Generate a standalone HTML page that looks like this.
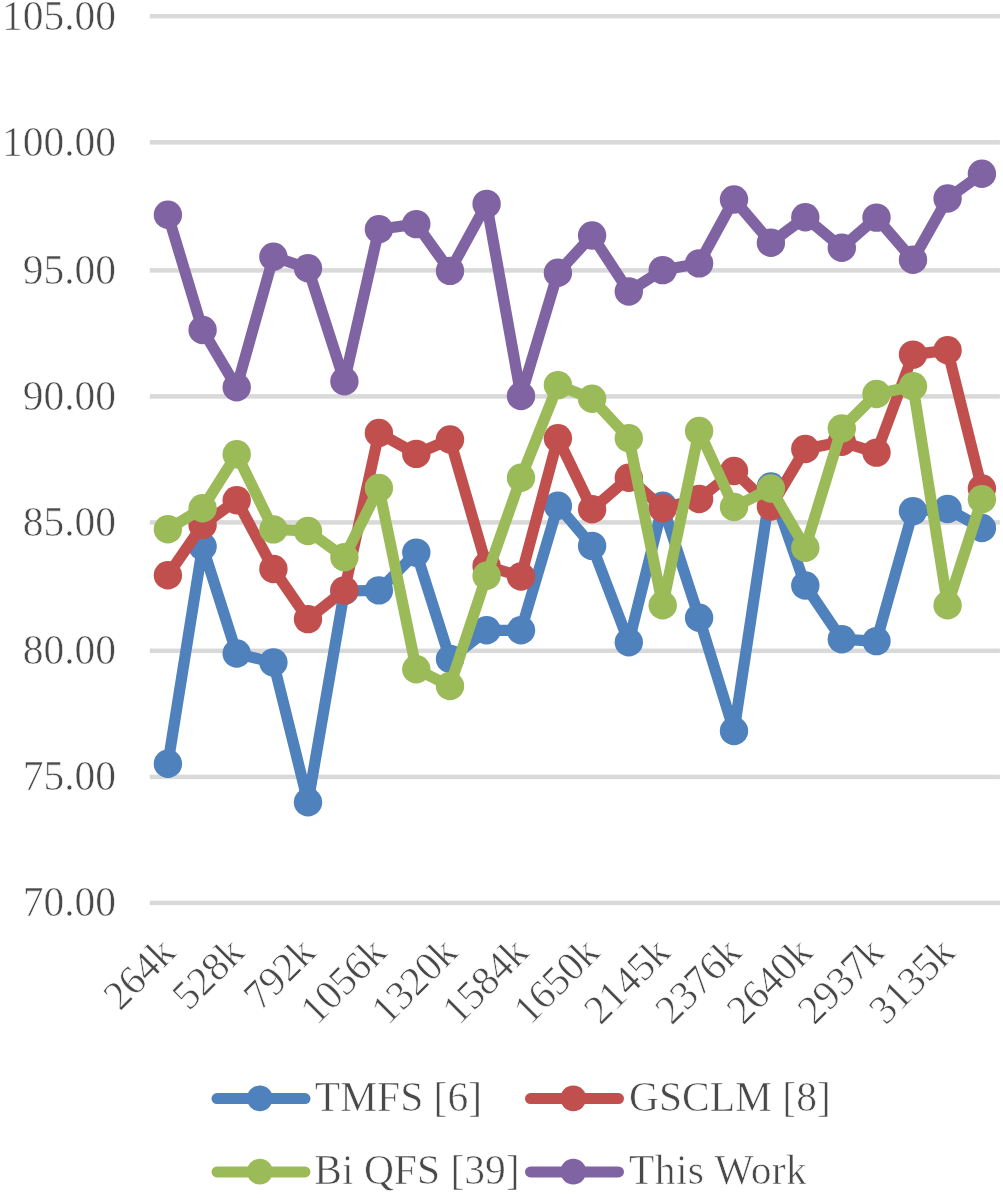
<!DOCTYPE html>
<html><head><meta charset="utf-8"><title>chart</title>
<style>
html,body{margin:0;padding:0;background:#fff;}
svg{display:block;}
text{font-family:"Liberation Serif",serif;fill:#484848;stroke:#fff;stroke-width:0.6px;paint-order:fill stroke;}
</style></head><body>
<svg width="1003" height="1198" viewBox="0 0 1003 1198">
<defs><filter id="b" x="-5%" y="-5%" width="110%" height="110%"><feGaussianBlur stdDeviation="0.6"/></filter><filter id="t" x="-5%" y="-5%" width="110%" height="110%"><feGaussianBlur stdDeviation="0.45"/></filter></defs>
<rect width="1003" height="1198" fill="#fff"/>
<rect x="149.8" y="13.95" width="850.1" height="4.5" fill="#D9D9D9"/>
<rect x="149.8" y="140.05" width="850.1" height="4.5" fill="#D9D9D9"/>
<rect x="149.8" y="268.15" width="850.1" height="4.5" fill="#D9D9D9"/>
<rect x="149.8" y="394.15" width="850.1" height="4.5" fill="#D9D9D9"/>
<rect x="149.8" y="520.15" width="850.1" height="4.5" fill="#D9D9D9"/>
<rect x="149.8" y="648.55" width="850.1" height="4.5" fill="#D9D9D9"/>
<rect x="149.8" y="774.65" width="850.1" height="4.5" fill="#D9D9D9"/>
<rect x="149.8" y="900.65" width="850.1" height="4.5" fill="#D9D9D9"/>
<g filter="url(#b)">
<polyline points="167.9,763.7 202.6,546.5 236.7,653.5 273.4,662.4 308.0,802.3 344.4,591.0 378.9,590.4 416.3,552.6 450.0,659.0 486.6,630.3 521.0,630.3 557.9,505.7 592.1,545.9 628.8,642.2 662.7,505.7 699.1,617.8 734.0,731.0 770.9,486.5 805.3,585.5 841.8,639.3 876.5,641.1 913.0,511.1 947.6,509.0 981.9,528.0" fill="none" stroke="#4F81BD" stroke-width="11.2" stroke-linejoin="round" stroke-linecap="round"/>
<circle cx="167.9" cy="763.7" r="14.2" fill="#4F81BD"/>
<circle cx="202.6" cy="546.5" r="14.2" fill="#4F81BD"/>
<circle cx="236.7" cy="653.5" r="14.2" fill="#4F81BD"/>
<circle cx="273.4" cy="662.4" r="14.2" fill="#4F81BD"/>
<circle cx="308.0" cy="802.3" r="14.2" fill="#4F81BD"/>
<circle cx="344.4" cy="591.0" r="14.2" fill="#4F81BD"/>
<circle cx="378.9" cy="590.4" r="14.2" fill="#4F81BD"/>
<circle cx="416.3" cy="552.6" r="14.2" fill="#4F81BD"/>
<circle cx="450.0" cy="659.0" r="14.2" fill="#4F81BD"/>
<circle cx="486.6" cy="630.3" r="14.2" fill="#4F81BD"/>
<circle cx="521.0" cy="630.3" r="14.2" fill="#4F81BD"/>
<circle cx="557.9" cy="505.7" r="14.2" fill="#4F81BD"/>
<circle cx="592.1" cy="545.9" r="14.2" fill="#4F81BD"/>
<circle cx="628.8" cy="642.2" r="14.2" fill="#4F81BD"/>
<circle cx="662.7" cy="505.7" r="14.2" fill="#4F81BD"/>
<circle cx="699.1" cy="617.8" r="14.2" fill="#4F81BD"/>
<circle cx="734.0" cy="731.0" r="14.2" fill="#4F81BD"/>
<circle cx="770.9" cy="486.5" r="14.2" fill="#4F81BD"/>
<circle cx="805.3" cy="585.5" r="14.2" fill="#4F81BD"/>
<circle cx="841.8" cy="639.3" r="14.2" fill="#4F81BD"/>
<circle cx="876.5" cy="641.1" r="14.2" fill="#4F81BD"/>
<circle cx="913.0" cy="511.1" r="14.2" fill="#4F81BD"/>
<circle cx="947.6" cy="509.0" r="14.2" fill="#4F81BD"/>
<circle cx="981.9" cy="528.0" r="14.2" fill="#4F81BD"/>
<polyline points="167.9,575.2 202.6,525.0 236.7,500.2 273.4,569.0 308.0,619.1 344.4,590.4 378.9,433.0 416.3,453.9 450.0,439.5 486.6,566.0 521.0,576.5 557.9,438.2 592.1,509.3 628.8,477.7 662.7,508.2 699.1,499.0 734.0,471.0 770.9,506.5 805.3,449.0 841.8,441.8 876.5,452.6 913.0,354.6 947.6,350.3 981.9,488.5" fill="none" stroke="#C0504D" stroke-width="11.2" stroke-linejoin="round" stroke-linecap="round"/>
<circle cx="167.9" cy="575.2" r="14.2" fill="#C0504D"/>
<circle cx="202.6" cy="525.0" r="14.2" fill="#C0504D"/>
<circle cx="236.7" cy="500.2" r="14.2" fill="#C0504D"/>
<circle cx="273.4" cy="569.0" r="14.2" fill="#C0504D"/>
<circle cx="308.0" cy="619.1" r="14.2" fill="#C0504D"/>
<circle cx="344.4" cy="590.4" r="14.2" fill="#C0504D"/>
<circle cx="378.9" cy="433.0" r="14.2" fill="#C0504D"/>
<circle cx="416.3" cy="453.9" r="14.2" fill="#C0504D"/>
<circle cx="450.0" cy="439.5" r="14.2" fill="#C0504D"/>
<circle cx="486.6" cy="566.0" r="14.2" fill="#C0504D"/>
<circle cx="521.0" cy="576.5" r="14.2" fill="#C0504D"/>
<circle cx="557.9" cy="438.2" r="14.2" fill="#C0504D"/>
<circle cx="592.1" cy="509.3" r="14.2" fill="#C0504D"/>
<circle cx="628.8" cy="477.7" r="14.2" fill="#C0504D"/>
<circle cx="662.7" cy="508.2" r="14.2" fill="#C0504D"/>
<circle cx="699.1" cy="499.0" r="14.2" fill="#C0504D"/>
<circle cx="734.0" cy="471.0" r="14.2" fill="#C0504D"/>
<circle cx="770.9" cy="506.5" r="14.2" fill="#C0504D"/>
<circle cx="805.3" cy="449.0" r="14.2" fill="#C0504D"/>
<circle cx="841.8" cy="441.8" r="14.2" fill="#C0504D"/>
<circle cx="876.5" cy="452.6" r="14.2" fill="#C0504D"/>
<circle cx="913.0" cy="354.6" r="14.2" fill="#C0504D"/>
<circle cx="947.6" cy="350.3" r="14.2" fill="#C0504D"/>
<circle cx="981.9" cy="488.5" r="14.2" fill="#C0504D"/>
<polyline points="167.9,529.2 202.6,508.2 236.7,454.2 273.4,529.4 308.0,531.0 344.4,557.3 378.9,488.0 416.3,669.3 450.0,686.0 486.6,575.7 521.0,477.7 557.9,385.1 592.1,398.7 628.8,438.2 662.7,605.2 699.1,431.0 734.0,507.0 770.9,488.5 805.3,547.8 841.8,428.5 876.5,394.0 913.0,386.2 947.6,605.2 981.9,499.3" fill="none" stroke="#9BBB59" stroke-width="11.2" stroke-linejoin="round" stroke-linecap="round"/>
<circle cx="167.9" cy="529.2" r="14.2" fill="#9BBB59"/>
<circle cx="202.6" cy="508.2" r="14.2" fill="#9BBB59"/>
<circle cx="236.7" cy="454.2" r="14.2" fill="#9BBB59"/>
<circle cx="273.4" cy="529.4" r="14.2" fill="#9BBB59"/>
<circle cx="308.0" cy="531.0" r="14.2" fill="#9BBB59"/>
<circle cx="344.4" cy="557.3" r="14.2" fill="#9BBB59"/>
<circle cx="378.9" cy="488.0" r="14.2" fill="#9BBB59"/>
<circle cx="416.3" cy="669.3" r="14.2" fill="#9BBB59"/>
<circle cx="450.0" cy="686.0" r="14.2" fill="#9BBB59"/>
<circle cx="486.6" cy="575.7" r="14.2" fill="#9BBB59"/>
<circle cx="521.0" cy="477.7" r="14.2" fill="#9BBB59"/>
<circle cx="557.9" cy="385.1" r="14.2" fill="#9BBB59"/>
<circle cx="592.1" cy="398.7" r="14.2" fill="#9BBB59"/>
<circle cx="628.8" cy="438.2" r="14.2" fill="#9BBB59"/>
<circle cx="662.7" cy="605.2" r="14.2" fill="#9BBB59"/>
<circle cx="699.1" cy="431.0" r="14.2" fill="#9BBB59"/>
<circle cx="734.0" cy="507.0" r="14.2" fill="#9BBB59"/>
<circle cx="770.9" cy="488.5" r="14.2" fill="#9BBB59"/>
<circle cx="805.3" cy="547.8" r="14.2" fill="#9BBB59"/>
<circle cx="841.8" cy="428.5" r="14.2" fill="#9BBB59"/>
<circle cx="876.5" cy="394.0" r="14.2" fill="#9BBB59"/>
<circle cx="913.0" cy="386.2" r="14.2" fill="#9BBB59"/>
<circle cx="947.6" cy="605.2" r="14.2" fill="#9BBB59"/>
<circle cx="981.9" cy="499.3" r="14.2" fill="#9BBB59"/>
<polyline points="167.9,214.8 202.6,330.0 236.7,387.3 273.4,256.7 308.0,268.2 344.4,381.3 378.9,229.3 416.3,224.1 450.0,270.9 486.6,203.9 521.0,396.0 557.9,272.7 592.1,235.5 628.8,291.5 662.7,270.1 699.1,263.4 734.0,199.5 770.9,242.7 805.3,217.3 841.8,247.8 876.5,217.6 913.0,259.8 947.6,198.5 981.9,173.8" fill="none" stroke="#8064A2" stroke-width="11.2" stroke-linejoin="round" stroke-linecap="round"/>
<circle cx="167.9" cy="214.8" r="14.2" fill="#8064A2"/>
<circle cx="202.6" cy="330.0" r="14.2" fill="#8064A2"/>
<circle cx="236.7" cy="387.3" r="14.2" fill="#8064A2"/>
<circle cx="273.4" cy="256.7" r="14.2" fill="#8064A2"/>
<circle cx="308.0" cy="268.2" r="14.2" fill="#8064A2"/>
<circle cx="344.4" cy="381.3" r="14.2" fill="#8064A2"/>
<circle cx="378.9" cy="229.3" r="14.2" fill="#8064A2"/>
<circle cx="416.3" cy="224.1" r="14.2" fill="#8064A2"/>
<circle cx="450.0" cy="270.9" r="14.2" fill="#8064A2"/>
<circle cx="486.6" cy="203.9" r="14.2" fill="#8064A2"/>
<circle cx="521.0" cy="396.0" r="14.2" fill="#8064A2"/>
<circle cx="557.9" cy="272.7" r="14.2" fill="#8064A2"/>
<circle cx="592.1" cy="235.5" r="14.2" fill="#8064A2"/>
<circle cx="628.8" cy="291.5" r="14.2" fill="#8064A2"/>
<circle cx="662.7" cy="270.1" r="14.2" fill="#8064A2"/>
<circle cx="699.1" cy="263.4" r="14.2" fill="#8064A2"/>
<circle cx="734.0" cy="199.5" r="14.2" fill="#8064A2"/>
<circle cx="770.9" cy="242.7" r="14.2" fill="#8064A2"/>
<circle cx="805.3" cy="217.3" r="14.2" fill="#8064A2"/>
<circle cx="841.8" cy="247.8" r="14.2" fill="#8064A2"/>
<circle cx="876.5" cy="217.6" r="14.2" fill="#8064A2"/>
<circle cx="913.0" cy="259.8" r="14.2" fill="#8064A2"/>
<circle cx="947.6" cy="198.5" r="14.2" fill="#8064A2"/>
<circle cx="981.9" cy="173.8" r="14.2" fill="#8064A2"/>
<line x1="217" x2="305" y1="1098.6" y2="1098.6" stroke="#4F81BD" stroke-width="11" stroke-linecap="round"/>
<circle cx="259.8" cy="1098.3" r="12.9" fill="#4F81BD"/>
<line x1="530.5" x2="618.5" y1="1098.6" y2="1098.6" stroke="#C0504D" stroke-width="11" stroke-linecap="round"/>
<circle cx="573.3" cy="1098.3" r="12.9" fill="#C0504D"/>
<line x1="217" x2="305" y1="1171.9" y2="1171.9" stroke="#9BBB59" stroke-width="11" stroke-linecap="round"/>
<circle cx="259.8" cy="1171.6" r="12.9" fill="#9BBB59"/>
<line x1="530.5" x2="618.5" y1="1171.9" y2="1171.9" stroke="#8064A2" stroke-width="11" stroke-linecap="round"/>
<circle cx="573.3" cy="1171.6" r="12.9" fill="#8064A2"/>
</g>
<g filter="url(#t)">
<text x="116.1" y="29.7" font-size="41.5" text-anchor="end">105.00</text>
<text x="116.1" y="155.8" font-size="41.5" text-anchor="end">100.00</text>
<text x="116.1" y="283.9" font-size="41.5" text-anchor="end">95.00</text>
<text x="116.1" y="409.9" font-size="41.5" text-anchor="end">90.00</text>
<text x="116.1" y="535.9" font-size="41.5" text-anchor="end">85.00</text>
<text x="116.1" y="664.3" font-size="41.5" text-anchor="end">80.00</text>
<text x="116.1" y="790.4" font-size="41.5" text-anchor="end">75.00</text>
<text x="116.1" y="916.4" font-size="41.5" text-anchor="end">70.00</text>
<text font-size="41" letter-spacing="-0.3" text-anchor="end" transform="translate(177.2,954.6) rotate(-45)">264k</text>
<text font-size="41" letter-spacing="-0.3" text-anchor="end" transform="translate(246.0,954.6) rotate(-45)">528k</text>
<text font-size="41" letter-spacing="-0.3" text-anchor="end" transform="translate(317.3,954.6) rotate(-45)">792k</text>
<text font-size="41" letter-spacing="-0.3" text-anchor="end" transform="translate(388.2,954.6) rotate(-45)">1056k</text>
<text font-size="41" letter-spacing="-0.3" text-anchor="end" transform="translate(459.3,954.6) rotate(-45)">1320k</text>
<text font-size="41" letter-spacing="-0.3" text-anchor="end" transform="translate(530.3,954.6) rotate(-45)">1584k</text>
<text font-size="41" letter-spacing="-0.3" text-anchor="end" transform="translate(601.4,954.6) rotate(-45)">1650k</text>
<text font-size="41" letter-spacing="-0.3" text-anchor="end" transform="translate(672.0,954.6) rotate(-45)">2145k</text>
<text font-size="41" letter-spacing="-0.3" text-anchor="end" transform="translate(743.3,954.6) rotate(-45)">2376k</text>
<text font-size="41" letter-spacing="-0.3" text-anchor="end" transform="translate(814.6,954.6) rotate(-45)">2640k</text>
<text font-size="41" letter-spacing="-0.3" text-anchor="end" transform="translate(885.8,954.6) rotate(-45)">2937k</text>
<text font-size="41" letter-spacing="-0.3" text-anchor="end" transform="translate(956.9,954.6) rotate(-45)">3135k</text>
<text x="314.8" y="1111.1" font-size="41.5">TMFS [6]</text>
<text x="629" y="1111.1" font-size="41.5">GSCLM [8]</text>
<text x="314.3" y="1184.4" font-size="41.5">Bi QFS [39]</text>
<text x="629" y="1184.4" font-size="41.5" letter-spacing="0.4">This Work</text>
</g></svg></body></html>
